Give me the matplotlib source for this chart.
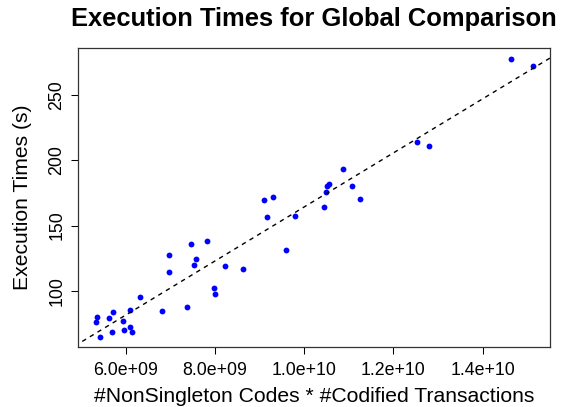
import numpy as np
import matplotlib
matplotlib.use("Agg")
import matplotlib.pyplot as plt
from matplotlib.ticker import FuncFormatter

plt.rcParams['font.family'] = ['Liberation Sans', 'DejaVu Sans']

# product of non-singleton codes and codified transactions, and the run time
work = [5.35e9, 5.32e9, 5.42e9, 5.63e9, 5.68e9, 5.72e9, 5.94e9, 5.96e9,
        6.10e9, 6.13e9, 6.10e9, 6.32e9, 6.81e9, 6.97e9, 6.97e9, 7.37e9,
        7.46e9, 7.81e9, 7.57e9, 7.53e9, 7.98e9, 8.00e9, 8.23e9, 8.63e9,
        9.09e9, 9.29e9, 9.17e9, 9.59e9, 9.80e9, 1.045e10, 1.049e10,
        1.051e10, 1.056e10, 1.087e10, 1.108e10, 1.126e10, 1.252e10,
        1.280e10, 1.463e10, 1.514e10]
seconds = [79.8, 75.7, 64.5, 79.1, 68.3, 83.7, 77.2, 70.3,
           71.9, 68.8, 85.2, 94.9, 84.7, 127.6, 114.0, 87.5,
           135.8, 138.1, 124.0, 119.4, 102.3, 97.7, 118.6, 116.6,
           169.2, 171.5, 156.7, 131.2, 157.0, 163.9, 175.4,
           180.0, 182.1, 193.0, 180.0, 170.3, 214.3,
           211.2, 277.4, 272.5]

x_ticks = [6e9, 8e9, 1e10, 1.2e10, 1.4e10]
y_ticks = [100, 150, 200, 250]

fig = plt.figure(figsize=(5.7, 4.07), dpi=100)
ax = fig.add_axes([0.1363, 0.1486, 0.8286, 0.7339])

ax.plot(work, seconds, 'o', color='blue', markersize=4.2, markeredgewidth=0)

# least squares line through the points
slope, icpt = np.polyfit(work, seconds, 1)
xs = np.array([4.0e9, 1.7e10])
ax.plot(xs, icpt + slope * xs, color='black', linestyle=(0, (3.2, 3.2)), linewidth=1.0)

ax.set_xlim(4.92e9, 1.551e10)
ax.set_ylim(57.3, 286.1)

ax.set_xticks(x_ticks)
ax.set_yticks(y_ticks)
ax.xaxis.set_major_formatter(FuncFormatter(lambda v, p: '%.1e' % v))
ax.tick_params(axis='both', direction='out', length=4.8, width=0.75, labelsize=12.8, colors='black')
ax.tick_params(axis='x', pad=6)
ax.tick_params(axis='y', pad=4)
for lab in ax.get_yticklabels():
    lab.set_rotation(90)
    lab.set_va('center')

for sp in ax.spines.values():
    sp.set_linewidth(0.9)
    sp.set_color('#333333')

ax.set_xlabel('#NonSingleton Codes * #Codified Transactions', fontsize=15.2, va='baseline')
ax.xaxis.set_label_coords(0.5, -0.1865)
ax.set_ylabel('Execution Times (s)', fontsize=15.2, va='baseline')
ax.yaxis.set_label_coords(-0.1046, 0.5)
ax.set_title('Execution Times for Global Comparison', fontsize=18.4, fontweight='bold',
             y=1.073, va='baseline', pad=0)

fig.savefig('out.png', dpi=100)
